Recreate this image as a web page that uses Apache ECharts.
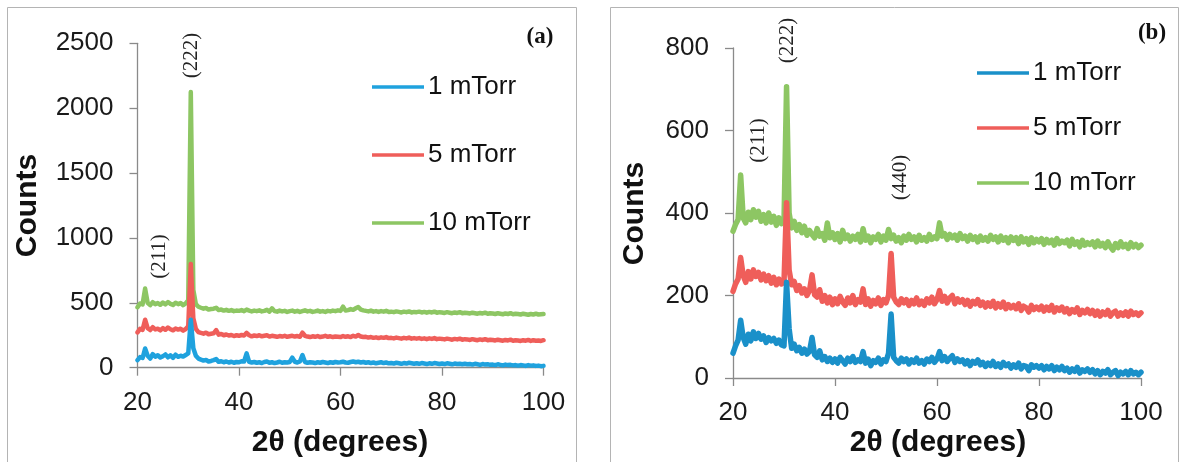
<!DOCTYPE html>
<html>
<head>
<meta charset="utf-8">
<style>
html,body{margin:0;padding:0;background:#fff;}
#chart{width:1183px;height:462px;}
</style>
<script src="https://cdn.jsdelivr.net/npm/echarts@6/dist/echarts.min.js"></script>
</head>
<body>
<div id="chart"></div>
<script>
// 2θ sampling (degrees)
const twoTheta = [
 20,20.5,21,21.5,22,22.5,23,23.5,24,24.5,25,25.5,26,26.5,27,27.5,28,28.5,29,29.5,
 30,30.5,31,31.5,32,32.5,33,33.5,34,34.5,35,35.5,36,36.5,37,37.5,38,38.5,39,39.5,
 40,40.5,41,41.5,42,42.5,43,43.5,44,44.5,45,45.5,46,46.5,47,47.5,48,48.5,49,49.5,
 50,50.5,51,51.5,52,52.5,53,53.5,54,54.5,55,55.5,56,56.5,57,57.5,58,58.5,59,59.5,
 60,60.5,61,61.5,62,62.5,63,63.5,64,64.5,65,65.5,66,66.5,67,67.5,68,68.5,69,69.5,
 70,70.5,71,71.5,72,72.5,73,73.5,74,74.5,75,75.5,76,76.5,77,77.5,78,78.5,79,79.5,
 80,80.5,81,81.5,82,82.5,83,83.5,84,84.5,85,85.5,86,86.5,87,87.5,88,88.5,89,89.5,
 90,90.5,91,91.5,92,92.5,93,93.5,94,94.5,95,95.5,96,96.5,97,97.5,98,98.5,99,99.5,
 100
];

const seriesNames = ['1 mTorr', '5 mTorr', '10 mTorr'];
const xTicks = [20, 40, 60, 80, 100];
const yTicksA = [0, 500, 1000, 1500, 2000, 2500];
const yTicksB = [0, 200, 400, 600, 800];

// Panel (a) counts
const countsA1 = [
 58,82,75,148,92,70,104,85,96,78,
 88,102,80,95,76,100,84,92,86,98,
 110,370,150,92,70,62,55,60,48,52,
 58,66,45,50,42,48,40,46,38,44,
 42,50,48,110,45,40,44,38,42,36,
 44,48,38,42,36,40,46,38,42,40,
 44,78,46,40,48,98,44,38,42,40,
 36,42,38,44,40,36,42,38,44,40,
 42,46,40,38,44,48,42,46,40,44,
 38,42,36,40,34,38,42,36,40,34,
 36,32,38,34,30,36,32,38,34,30,
 34,30,36,32,28,34,30,36,32,28,
 32,28,34,30,26,32,28,30,26,30,
 26,28,24,30,26,22,28,24,26,22,
 24,20,26,22,18,24,20,22,18,20,
 16,20,18,14,20,16,18,14,16,12,
 14
];
const countsA5 = [
 272,300,292,370,305,290,312,295,300,288,
 305,292,310,296,288,302,294,300,286,298,
 320,800,380,300,275,268,262,270,258,262,
 265,290,255,260,250,256,248,252,244,250,
 246,252,248,268,250,242,248,244,250,242,
 246,250,240,246,242,238,244,240,246,238,
 242,246,240,244,238,270,246,240,236,242,
 238,244,236,240,246,238,242,236,240,238,
 236,244,238,242,236,246,240,252,240,236,
 238,232,236,230,234,228,234,230,236,228,
 230,226,232,228,224,230,226,232,224,228,
 224,228,222,226,220,226,222,228,220,224,
 222,218,224,220,216,222,218,224,216,220,
 218,214,220,216,212,218,214,220,212,216,
 214,210,216,212,208,214,210,216,208,212,
 210,206,212,208,214,206,212,208,210,206,
 212
];
const countsA10 = [
 466,495,488,610,500,482,505,490,498,485,
 502,488,506,492,484,500,490,498,482,495,
 520,2125,600,490,470,462,455,460,448,452,
 455,462,444,448,440,446,438,444,436,440,
 438,444,436,448,440,434,440,436,442,434,
 438,446,432,458,436,432,440,434,438,430,
 436,440,432,438,430,436,442,434,438,430,
 434,440,432,436,430,438,434,440,436,442,
 438,470,440,444,452,446,458,468,448,442,
 438,434,440,432,436,430,436,432,438,430,
 432,428,434,430,426,432,428,434,426,430,
 428,432,426,430,424,430,426,432,424,428,
 426,422,428,424,420,426,422,428,420,424,
 422,418,424,420,416,422,418,424,416,420,
 418,414,420,416,412,418,414,420,412,416,
 414,410,416,412,408,414,410,416,410,412,
 414
];

// Panel (b) counts
const countsB1 = [
 60,78,92,140,98,82,106,90,112,96,
 108,94,102,86,98,90,96,84,92,80,
 78,232,120,72,82,66,74,60,70,58,
 64,98,56,50,66,44,52,40,48,38,
 46,36,50,42,34,48,40,52,38,44,
 40,64,36,46,30,42,38,48,34,44,
 40,60,155,50,42,36,48,40,46,34,
 44,38,48,36,42,34,46,40,50,38,
 46,64,42,52,40,48,54,38,46,40,
 44,34,42,30,40,36,44,32,38,28,
 36,30,40,28,34,26,38,30,34,24,
 32,26,36,22,30,28,18,32,26,30,
 24,30,20,28,22,30,18,26,20,28,
 18,24,14,22,16,26,12,20,16,22,
 14,20,10,18,8,16,12,20,8,14,
 18,6,14,10,16,8,18,10,14,8,
 14
];
const countsB5 = [
 210,228,240,292,248,232,258,240,262,246,
 256,238,252,236,248,230,244,226,240,228,
 232,425,262,226,234,212,224,206,216,200,
 212,250,202,196,214,186,200,182,196,178,
 192,180,198,184,176,194,182,200,178,190,
 184,216,178,192,174,188,180,194,176,190,
 182,200,302,196,184,178,192,182,190,176,
 188,180,194,178,186,176,192,182,196,180,
 190,212,186,198,182,194,200,180,192,184,
 190,178,188,174,186,180,190,176,184,172,
 182,174,186,170,180,172,184,168,178,170,
 176,168,180,164,174,170,160,176,166,172,
 166,174,162,172,164,176,160,170,164,172,
 160,168,156,166,160,170,154,164,158,166,
 156,164,152,162,150,160,154,164,150,158,
 162,150,158,152,160,150,162,154,158,152,
 158
];
const countsB10 = [
 356,372,384,492,388,376,402,384,408,390,
 404,380,396,376,400,378,392,370,388,374,
 380,706,400,364,380,358,372,352,368,346,
 358,348,340,362,344,350,334,376,340,352,
 336,350,330,358,338,346,332,344,336,348,
 330,362,334,344,328,342,336,348,330,344,
 334,360,338,346,332,340,328,344,334,348,
 336,342,330,346,334,340,332,348,336,342,
 338,376,344,350,336,348,340,346,334,350,
 338,344,332,346,336,342,330,344,334,340,
 332,346,336,342,330,344,334,340,328,342,
 334,340,326,342,330,338,324,340,328,336,
 330,338,324,336,328,334,322,338,326,332,
 328,334,320,336,324,330,318,334,322,328,
 324,330,318,332,320,326,316,330,318,310,
 326,316,330,318,324,314,328,318,324,316,
 322
];

const colorsA = ['#1fa2de', '#ef5e5a', '#8dc663'];
const colorsB = ['#1a90c9', '#ef5e5a', '#8dc663'];

const FONT = '"Liberation Sans", Arial, sans-serif';
const SERIF = '"Liberation Serif", "Times New Roman", serif';
const AXIS_COLOR = '#8a8a8a';

function pairs(arr) { return twoTheta.map((t, i) => [t, arr[i]]); }

function xAxisCfg(idx) {
  return {
    type: 'value', gridIndex: idx, min: 20, max: 100, interval: 20,
    axisLine: { show: true, onZero: false, lineStyle: { color: AXIS_COLOR, width: 1.3 } },
    axisTick: { show: true, length: 8, lineStyle: { color: AXIS_COLOR, width: 1.3 } },
    splitLine: { show: false },
    axisLabel: { margin: 22, fontSize: 26, fontFamily: FONT, color: '#1a1a1a',
      formatter: v => xTicks.includes(v) ? String(v) : '' }
  };
}
function yAxisCfg(idx, max, interval, ticks) {
  return {
    type: 'value', gridIndex: idx, min: 0, max: max, interval: interval,
    axisLine: { show: true, lineStyle: { color: AXIS_COLOR, width: 1.3 } },
    axisTick: { show: true, length: 8, lineStyle: { color: AXIS_COLOR, width: 1.3 } },
    splitLine: { show: false },
    axisLabel: { margin: 24, fontSize: 26, fontFamily: FONT, color: '#1a1a1a',
      formatter: v => ticks.includes(v) ? String(v) : '' }
  };
}
function lineSeries(name, data, color, xi, z, w) {
  return {
    type: 'line', name: name, xAxisIndex: xi, yAxisIndex: xi,
    data: pairs(data), showSymbol: false, symbol: 'none', smooth: false,
    lineStyle: { color: color, width: w, join: 'round', cap: 'round' }, itemStyle: { color: color },
    z: z, silent: true
  };
}
const iconPath = 'path://M0 0H52V3.4H0Z';
function legendCfg(colors, left, top, gap) {
  return {
    orient: 'vertical', left: left, top: top, itemWidth: 52, itemHeight: 26, itemGap: gap,
    icon: iconPath, selectedMode: false,
    textStyle: { fontSize: 26, fontFamily: FONT, color: '#111', padding: [0, 0, 0, -1] },
    data: seriesNames.map((n, i) => ({ name: n, itemStyle: { color: colors[i] } }))
  };
}
function rotText(x, y, text, size) {
  return { type: 'text', x: x, y: y, rotation: Math.PI / 2, silent: true,
    style: { text: text, fontSize: size, fontFamily: SERIF, fill: '#222', align: 'center', verticalAlign: 'middle' } };
}
function plainText(x, y, text, size, weight, family, rot) {
  return { type: 'text', x: x, y: y, rotation: rot || 0, silent: true,
    style: { text: text, fontSize: size, fontWeight: weight, fontFamily: family, fill: '#111', align: 'center', verticalAlign: 'middle' } };
}

const chart = echarts.init(document.getElementById('chart'), null, { renderer: 'canvas' });
chart.setOption({
  animation: false,
  backgroundColor: '#fff',
  grid: [
    { left: 137.5, top: 43.3, width: 406, height: 324.4, containLabel: false },
    { left: 733, top: 48, width: 408, height: 330, containLabel: false }
  ],
  xAxis: [xAxisCfg(0), xAxisCfg(1)],
  yAxis: [yAxisCfg(0, 2500, 500, yTicksA), yAxisCfg(1, 800, 200, yTicksB)],
  legend: [legendCfg(colorsA, 367, 69, 42), legendCfg(colorsB, 972, 55, 29)],
  series: [
    lineSeries(seriesNames[2], countsA10, colorsA[2], 0, 2, 4.5),
    lineSeries(seriesNames[1], countsA5, colorsA[1], 0, 3, 4.5),
    lineSeries(seriesNames[0], countsA1, colorsA[0], 0, 4, 4.5),
    lineSeries(seriesNames[2], countsB10, colorsB[2], 1, 2, 5.5),
    lineSeries(seriesNames[1], countsB5, colorsB[1], 1, 3, 5.5),
    lineSeries(seriesNames[0], countsB1, colorsB[0], 1, 4, 5.5)
  ],
  graphic: [
    { type: 'rect', shape: { x: 7.5, y: 7.5, width: 569, height: 480 }, silent: true,
      style: { fill: 'none', stroke: '#b4b4b4', lineWidth: 1 }, z: -1 },
    { type: 'rect', shape: { x: 610.5, y: 7.5, width: 568, height: 480 }, silent: true,
      style: { fill: 'none', stroke: '#b4b4b4', lineWidth: 1 }, z: -1 },
    plainText(540, 37, '(a)', 23, 'bold', SERIF),
    plainText(1152, 33, '(b)', 23, 'bold', SERIF),
    plainText(28, 205.5, 'Counts', 30, 'bold', FONT, Math.PI / 2),
    plainText(635, 213.5, 'Counts', 30, 'bold', FONT, Math.PI / 2),
    plainText(340, 443, '2θ (degrees)', 30, 'bold', FONT),
    plainText(938, 443, '2θ (degrees)', 30, 'bold', FONT),
    rotText(191, 55.5, '(222)', 21),
    rotText(159, 256.5, '(211)', 21),
    rotText(787, 40.5, '(222)', 21),
    rotText(758.5, 140.5, '(211)', 21),
    rotText(900.6, 177.5, '(440)', 21)
  ]
});
</script>
</body>
</html>
